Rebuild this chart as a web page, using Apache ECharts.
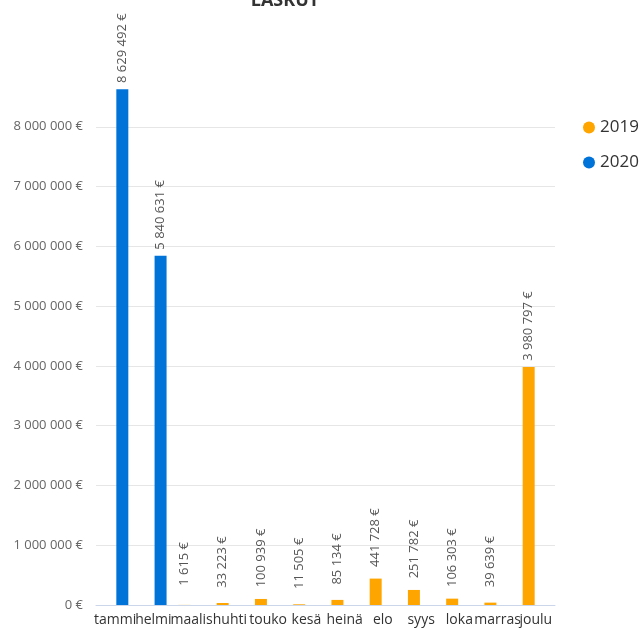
<!DOCTYPE html>
<html>
<head>
<meta charset="utf-8">
<script src="https://cdn.jsdelivr.net/npm/echarts@6/dist/echarts.min.js"></script>
<style>html,body{margin:0;padding:0;background:#fff;}#c{width:642px;height:632px;}</style>
</head>
<body>
<div id="c"></div>
<script>
const titleText = 'LASKUT';
const categories = ['tammi','helmi','maalis','huhti','touko','kesä','heinä','elo','syys','loka','marras','joulu'];
const seriesNames = ['2019','2020'];
const values2019 = [null, null, 1615, 33223, 100939, 11505, 85134, 441728, 251782, 106303, 39639, 3980797];
const values2020 = [8629492, 5840631, null, null, null, null, null, null, null, null, null, null];
const yMin = 0, yMax = 9000000, yInterval = 1000000;

function fmt(v){ return String(Math.round(v)).replace(/\B(?=(\d{3})+(?!\d))/g, ' ') + ' €'; }

const font = '"Open Sans", "Noto Sans", sans-serif';
const chart = echarts.init(document.getElementById('c'), null, {renderer:'canvas'});
const labelCfg = {
  show: true, position: 'top', rotate: 90, distance: 41,
  align: 'center', verticalAlign: 'middle',
  color: '#555', fontSize: 13, fontFamily: font,
  formatter: p => (p.value == null ? '' : fmt(p.value))
};
chart.setOption({
  animation: false,
  textStyle: {fontFamily: font},
  title: {text: titleText, left: 280, top: -13, textAlign: 'center',
    textStyle: {fontSize: 18, fontWeight: 'bold', color: '#333', fontFamily: font}},
  legend: {orient: 'vertical', left: 578, top: 114, itemGap: 18, icon: 'circle',
    itemWidth: 12, itemHeight: 12,
    textStyle: {fontSize: 17, color: '#333', fontFamily: font},
    data: seriesNames},
  grid: {left: 96, right: 87, top: 67, bottom: 27, containLabel: false},
  xAxis: {type: 'category', data: categories,
    axisLine: {lineStyle: {color: '#ccd6eb'}},
    axisTick: {alignWithLabel: true, length: 6, lineStyle: {color: '#ccd6eb'}},
    axisLabel: {color: '#333', fontSize: 14, margin: 8, interval: 0, fontFamily: font}},
  yAxis: {type: 'value', min: yMin, max: yMax, interval: yInterval,
    axisLine: {show: false}, axisTick: {show: false},
    splitLine: {lineStyle: {color: '#e6e6e6'}, showMaxLine: false},
    axisLabel: {color: '#666', fontSize: 13, margin: 13, showMaxLabel: false, fontFamily: font, formatter: v => fmt(v)}},
  series: [
    {name: seriesNames[0], type: 'bar', data: values2019, barWidth: 12, barGap: '20%',
      itemStyle: {color: '#FFA500'}, label: labelCfg},
    {name: seriesNames[1], type: 'bar', data: values2020, barWidth: 12, barGap: '20%',
      itemStyle: {color: '#0073D9'}, label: labelCfg}
  ]
});
</script>
</body>
</html>
